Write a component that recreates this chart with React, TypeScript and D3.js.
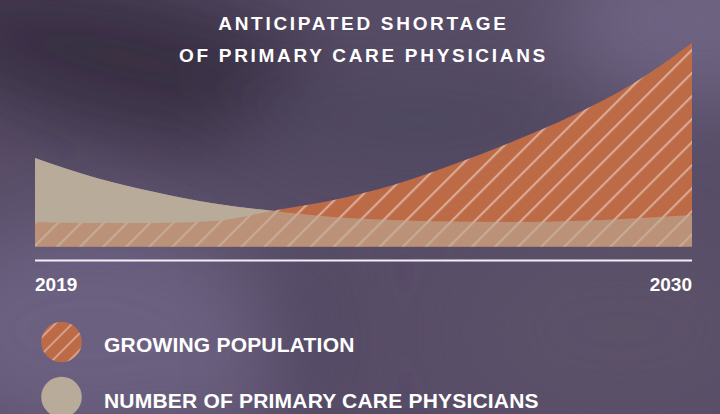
import * as d3 from 'd3';

// values (relative units, 0 = baseline)
const years = [2019, 2020, 2021, 2022, 2023, 2024, 2025, 2026, 2027, 2028, 2029, 2030];
const growingPopulation = [12.25, 11.75, 11.75, 12.75, 18, 23.25, 30.75, 41, 52.5, 65.5, 81.25, 101.75];
const primaryCarePhysicians = [44.25, 34.5, 27.25, 21.5, 17.75, 14.75, 13.25, 12.5, 12.25, 12.75, 14, 15.75];
const titleLines = ['ANTICIPATED SHORTAGE', 'OF PRIMARY CARE PHYSICIANS'];
const tickLabels = ['2019', '2030'];
const legendLabels = ['GROWING POPULATION', 'NUMBER OF PRIMARY CARE PHYSICIANS'];

const W = 720;
const H = 414;
const ORANGE = '#bd6a47';
const BEIGE = '#b9ab99';
const FONT = '"Liberation Sans", Arial, Helvetica, sans-serif';

const App = () => {
  const x = d3.scaleLinear().domain([2019, 2030]).range([35, 692]);
  const y = d3.scaleLinear().domain([0, 100]).range([246.5, 46.5]);

  const area = d3
    .area<number>()
    .x((_, i) => x(years[i]))
    .y0(y(0))
    .y1(d => y(d))
    .curve(d3.curveMonotoneX);

  const popPath = area(growingPopulation) || '';
  const docPath = area(primaryCarePhysicians) || '';

  return (
    <svg
      width={W}
      height={H}
      style={{ position: 'absolute', left: 0, top: 0, display: 'block' }}
    >
      <defs>
        <filter id="blur" x="-60%" y="-60%" width="220%" height="220%">
          <feGaussianBlur stdDeviation="40" />
        </filter>
        <pattern id="hatch" width="16.3" height="16.3" patternUnits="userSpaceOnUse" patternTransform="rotate(45)">
          <rect width="16.3" height="16.3" fill={ORANGE} />
          <line x1="3" y1="0" x2="3" y2="16.3" stroke="#fff" strokeOpacity={0.42} strokeWidth={2.2} />
        </pattern>
        <pattern id="hatchSmall" width="12" height="12" patternUnits="userSpaceOnUse" patternTransform="rotate(45)">
          <rect width="12" height="12" fill={ORANGE} />
          <line x1="4" y1="0" x2="4" y2="12" stroke="#fff" strokeOpacity={0.42} strokeWidth={1.8} />
        </pattern>
        <clipPath id="frame">
          <rect width={W} height={H} />
        </clipPath>
      </defs>

      {/* background */}
      <rect width={W} height={H} fill="#584d67" />
      <g clipPath="url(#frame)" filter="url(#blur)">
        <ellipse cx={130} cy={60} rx={230} ry={75} fill="#372e42" transform="rotate(12 130 60)" />
        <ellipse cx={90} cy={330} rx={170} ry={110} fill="#6c6081" />
        <ellipse cx={230} cy={360} rx={40} ry={90} fill="#6a5e7e" />
        <ellipse cx={300} cy={340} rx={30} ry={100} fill="#4f4560" />
        <ellipse cx={700} cy={20} rx={140} ry={80} fill="#6e6382" />
        <ellipse cx={620} cy={330} rx={150} ry={90} fill="#5c5169" />
        <ellipse cx={420} cy={120} rx={180} ry={60} fill="#504660" />
      </g>

      {/* title */}
      {titleLines.map((t, i) => (
        <text
          key={t}
          x={363.5}
          y={30 + i * 32}
          textAnchor="middle"
          fill="#fff"
          fontFamily={FONT}
          fontWeight="bold"
          fontSize={19}
          letterSpacing={2.7}
        >
          {t}
        </text>
      ))}

      {/* areas */}
      <path d={docPath} fill={BEIGE} />
      <path d={popPath} fill="url(#hatch)" />
      <path d={docPath} fill={BEIGE} fillOpacity={0.6} />

      {/* baseline */}
      <line x1={x(2019)} x2={x(2030)} y1={260.5} y2={260.5} stroke="#f2eef5" strokeWidth={2} />

      {/* year labels */}
      <text x={x(2019)} y={291} fill="#fff" fontFamily={FONT} fontWeight="bold" fontSize={19}>
        {tickLabels[0]}
      </text>
      <text x={x(2030)} y={291} textAnchor="end" fill="#fff" fontFamily={FONT} fontWeight="bold" fontSize={19}>
        {tickLabels[1]}
      </text>

      {/* legend */}
      <circle cx={61.5} cy={342} r={20.3} fill="url(#hatchSmall)" />
      <circle cx={61.5} cy={397} r={20.3} fill={BEIGE} />
      {legendLabels.map((t, i) => (
        <text
          key={t}
          x={104}
          y={352 + i * 55.5}
          fill="#fff"
          fontFamily={FONT}
          fontWeight="bold"
          fontSize={21}
          letterSpacing={0.2}
        >
          {t}
        </text>
      ))}
    </svg>
  );
};

export default App;
